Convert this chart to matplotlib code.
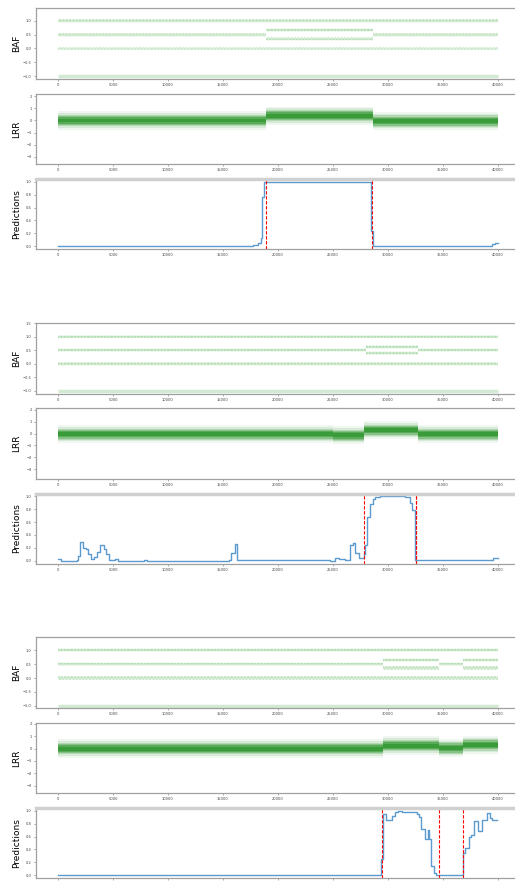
import matplotlib
matplotlib.use('Agg')
import matplotlib.pyplot as plt

# ---- data (positions in probe index) ----
x_ticks = list(range(0, 40001, 5000))
n_probes = 40000

# LRR: (start, end, level) of each copy-number segment
lrr_segments_1 = [(0, 18900, 0.0), (18900, 28600, 0.4), (28600, 40000, -0.05)]
lrr_segments_2 = [(0, 25000, -0.05), (25000, 27850, -0.15), (27850, 32700, 0.28), (32700, 40000, -0.05)]
lrr_segments_3 = [(0, 29500, 0.0), (29500, 34600, 0.25), (34600, 36800, 0.05), (36800, 40000, 0.3)]

# BAF: (start, end, centre) of each genotype cluster
baf_bands_1 = [(0, 40000, 1.0), (0, 40000, 0.0), (0, 18900, 0.5),
               (18900, 28600, 0.35), (18900, 28600, 0.67), (28600, 40000, 0.5)]
baf_bands_2 = [(0, 40000, 1.0), (0, 40000, 0.0), (0, 28000, 0.5),
               (28000, 32700, 0.38), (28000, 32700, 0.62), (32700, 40000, 0.5)]
baf_bands_3 = [(0, 40000, 1.0), (0, 40000, 0.0), (0, 29500, 0.5),
               (29500, 34600, 0.36), (29500, 34600, 0.64), (34600, 36800, 0.5),
               (36800, 40000, 0.36), (36800, 40000, 0.64)]
baf_missing = -1.0

# model predictions, step positions and values
pred_x_1 = [0, 17750, 18200, 18420, 18540, 18750, 27300, 28450, 28670, 29000, 39480, 39720, 40000]
pred_y_1 = [0.0, 0.02, 0.06, 0.13, 0.76, 1.0, 0.99, 0.23, 0.01, 0.0, 0.03, 0.06, 0.06]

pred_x_2 = [0, 310, 1690, 1840, 2025, 2300, 2515, 2760, 3005, 3280, 3525, 3830, 4140, 4350,
            4600, 5150, 5425, 7810, 8120, 15545, 15755, 16065, 16310, 17270, 17730, 24000,
            24750, 25160, 25530, 26130, 26520, 26830, 27040, 27340, 27820, 27940, 28090,
            28400, 28610, 28850, 29300, 31570, 31960, 32170, 32410, 33000, 39500, 40000]
pred_y_2 = [0.03, 0.0, 0.02, 0.08, 0.29, 0.2, 0.18, 0.1, 0.03, 0.06, 0.13, 0.25, 0.18, 0.1,
            0.01, 0.03, 0.0, 0.01, 0.0, 0.01, 0.12, 0.26, 0.01, 0.02, 0.01, 0.02,
            0.0, 0.04, 0.03, 0.02, 0.25, 0.27, 0.12, 0.04, 0.1, 0.25, 0.68,
            0.88, 0.95, 0.98, 1.0, 0.98, 0.9, 0.78, 0.02, 0.01, 0.04, 0.04]

pred_x_3 = [0, 29330, 29550, 29850, 30350, 30600, 30900, 31300, 32000, 32640, 32790, 33030,
            33390, 33600, 33760, 33940, 34150, 34400, 36500, 36820, 36970, 37330, 37550,
            37780, 38150, 38500, 39000, 39300, 39450, 39900]
pred_y_3 = [0.0, 0.25, 0.95, 0.86, 0.92, 0.98, 0.99, 0.98, 0.975, 0.95, 0.9, 0.72,
            0.56, 0.7, 0.56, 0.15, 0.03, 0.0, 0.01, 0.35, 0.43, 0.6, 0.63,
            0.84, 0.68, 0.85, 0.96, 0.89, 0.86, 0.86]

# true breakpoints (red dashed lines)
breaks_1 = [18909, 28573]
breaks_2 = [27822, 32520, 32570]
breaks_3 = [29460, 34620, 36800]

baf_ylim = [(-1.1, 1.46), (-1.1, 1.52), (-1.08, 1.48)]
lrr_ylim = [(-3.6, 2.19), (-3.78, 2.11), (-3.6, 2.08)]

W, H = 515, 882
SPINE = '#a0a0a0'


def style_axis(ax):
    for side in ax.spines:
        ax.spines[side].set_color(SPINE)
        ax.spines[side].set_linewidth(0.9)
    ax.tick_params(labelsize=2.6, length=1.5, width=0.5, color='#888888',
                   labelcolor='#444444', pad=1.5)
    ax.set_xlim(-2000, 42000)
    ax.set_xticks(x_ticks)


def add_axes(top_px, height_px):
    left, right = 36, 520
    return fig.add_axes([left / W, 1 - (top_px + height_px) / H, (right - left) / W, height_px / H])


def band(ax, start, end, lo, hi, **kw):
    ax.fill_between([start, end], [lo, lo], [hi, hi], lw=0, **kw)


def plot_baf(ax, bands, ylim):
    for start, end, centre in bands:
        band(ax, start, end, centre - 0.07, centre + 0.07, color='#8fd08f', alpha=0.12)
        band(ax, start, end, centre - 0.035, centre + 0.035, color='#4caf4c', alpha=0.18)
        band(ax, start, end, centre - 0.06, centre + 0.06, facecolor='none',
             edgecolor='#6cc06c', hatch='.....', alpha=0.35)
    ax.plot([0, n_probes], [baf_missing] * 2, color='#d2e9d2', lw=2.5, solid_capstyle='butt')
    ax.set_ylim(*ylim)
    ticks = [-1.0, -0.5, 0.0, 0.5, 1.0]
    if ylim[1] >= 1.5:
        ticks.append(1.5)
    ax.set_yticks(ticks)
    ax.set_ylabel('BAF', fontsize=6.5)


def plot_lrr(ax, segments, ylim):
    for start, end, level in segments:
        for half, alpha in [(0.75, 0.06), (0.6, 0.1), (0.47, 0.16), (0.37, 0.25),
                            (0.27, 0.33), (0.16, 0.35)]:
            band(ax, start, end, level - half, level + half, color='green', alpha=alpha)
    ax.set_ylim(*ylim)
    ax.set_yticks([-3, -2, -1, 0, 1, 2])
    ax.set_ylabel('LRR', fontsize=6.5)


def plot_pred(ax, xs, ys, breaks):
    ax.step(xs, ys, where='post', color='#5b9bd0', lw=1.0)
    for b in breaks:
        ax.axvline(b, color='red', lw=0.8, ls=(0, (3, 1.5)))
    ax.set_ylim(-0.04, 1.04)
    ax.set_yticks([0.0, 0.2, 0.4, 0.6, 0.8, 1.0])
    ax.spines['top'].set_color('#d0d0d0')
    ax.spines['top'].set_linewidth(2.5)
    ax.set_ylabel('Predictions', fontsize=6.5)


fig = plt.figure(figsize=(W / 100, H / 100), dpi=100)

groups = [
    (8, baf_bands_1, lrr_segments_1, pred_x_1, pred_y_1, breaks_1),
    (322.5, baf_bands_2, lrr_segments_2, pred_x_2, pred_y_2, breaks_2),
    (637, baf_bands_3, lrr_segments_3, pred_x_3, pred_y_3, breaks_3),
]

for i, (top, baf, lrr, px, py, brk) in enumerate(groups):
    ax_baf = add_axes(top, 71)
    ax_lrr = add_axes(top + 86, 70)
    ax_pred = add_axes(top + 171, 70)
    for ax in (ax_baf, ax_lrr, ax_pred):
        style_axis(ax)
    plot_baf(ax_baf, baf, baf_ylim[i])
    plot_lrr(ax_lrr, lrr, lrr_ylim[i])
    plot_pred(ax_pred, px, py, brk)
    for ax in (ax_baf, ax_lrr, ax_pred):
        ax.yaxis.set_label_coords(-0.03, 0.5)
    if i == len(groups) - 1:
        # bottom panel runs off the image edge, its tick labels are not visible
        ax_pred.tick_params(axis='x', labelbottom=False)

fig.savefig('out.png', dpi=100)
